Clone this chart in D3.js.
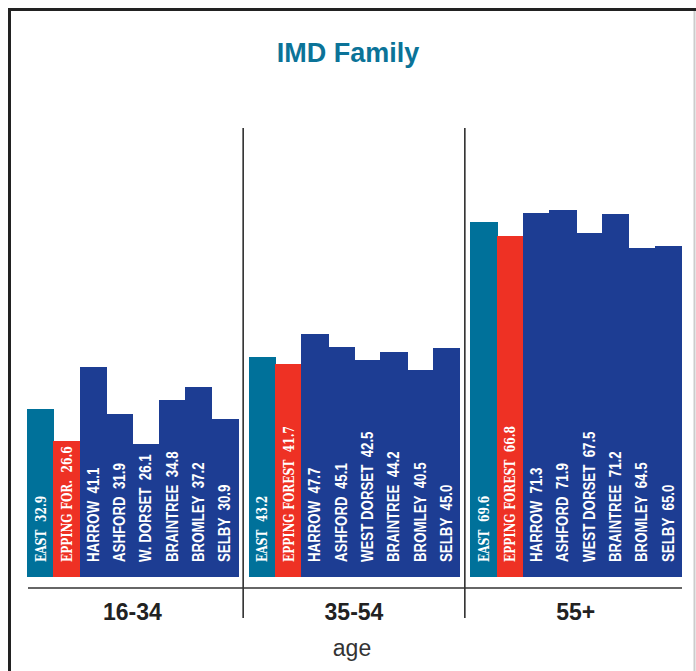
<!DOCTYPE html>
<html>
<head>
<meta charset="utf-8">
<title>IMD Family</title>
<script src="https://cdn.jsdelivr.net/npm/d3@7"></script>
<style>
    body { margin: 0; background: #fff; }
    #chart-area { width: 696px; height: 671px; }
    .bar-label { fill: #fff; white-space: pre; }
    .bar-label.sans { font-family: "Liberation Sans", Arial, sans-serif; font-weight: bold; font-size: 16px; }
    .bar-label.serif { font-family: "DejaVu Serif", serif; font-weight: bold; font-size: 15px; }
</style>
</head>
<body>
<div id="chart-area"></div>
<script>
// age groups along the x axis
let ageGroups = ["16-34", "35-54", "55+"];

// area names, one list per age group (first panel uses short names)
let areaNames = [
    ["EAST", "EPPING FOR.", "HARROW", "ASHFORD", "W. DORSET", "BRAINTREE", "BROMLEY", "SELBY"],
    ["EAST", "EPPING FOREST", "HARROW", "ASHFORD", "WEST DORSET", "BRAINTREE", "BROMLEY", "SELBY"],
    ["EAST", "EPPING FOREST", "HARROW", "ASHFORD", "WEST DORSET", "BRAINTREE", "BROMLEY", "SELBY"]
];

// IMD family values per age group
let values1634 = [32.9, 26.6, 41.1, 31.9, 26.1, 34.8, 37.2, 30.9];
let values3554 = [43.2, 41.7, 47.7, 45.1, 42.5, 44.2, 40.5, 45.0];
let values55   = [69.6, 66.8, 71.3, 71.9, 67.5, 71.2, 64.5, 65.0];

let allValues = [values1634, values3554, values55];

let colorEast = "#00719a";
let colorEpping = "#ee3124";
let colorOther = "#1d3d93";

let width = 696, height = 671;

let svg = d3.select("#chart-area").append("svg")
    .attr("width", width)
    .attr("height", height);

// frame (dark top + left, light right edge)
svg.append("path")
    .attr("d", "M9.5,671V9.5H696")
    .attr("fill", "none")
    .attr("stroke", "#222")
    .attr("stroke-width", 3);

svg.append("line")
    .attr("x1", 694.5).attr("x2", 694.5)
    .attr("y1", 11).attr("y2", 671)
    .attr("stroke", "#ccc")
    .attr("stroke-width", 2);

// title
svg.append("text")
    .attr("x", 348)
    .attr("y", 62)
    .attr("text-anchor", "middle")
    .style("font-family", "'Liberation Sans', Arial, sans-serif")
    .style("font-weight", "bold")
    .style("font-size", "27px")
    .style("fill", "#0b7398")
    .text("IMD Family");

// scales
let x0 = d3.scaleBand()
    .domain(ageGroups)
    .range([27, 681])
    .paddingInner(0.05);

let x1 = d3.scaleBand()
    .domain(d3.range(8))
    .range([0, x0.bandwidth()]);

let y = d3.scaleLinear()
    .domain([0, 75])
    .range([577, 577 - 75 * 5.1]);

// dividers between age groups
let step = x0.step();
let dividers = ageGroups.slice(1).map(g => x0(g) - (step - x0.bandwidth()) / 2);

svg.selectAll(".divider")
    .data(dividers)
    .enter().append("line")
    .attr("class", "divider")
    .attr("x1", d => d).attr("x2", d => d)
    .attr("y1", 128).attr("y2", 618)
    .attr("stroke", "#222")
    .attr("stroke-width", 1.5);

// one group per age band
let groups = svg.selectAll(".age-group")
    .data(ageGroups.map((g, i) => ({
        group: g,
        bars: allValues[i].map((v, j) => ({ name: areaNames[i][j], value: v, idx: j }))
    })))
    .enter().append("g")
    .attr("class", "age-group")
    .attr("transform", d => "translate(" + x0(d.group) + ",0)");

function barColor(d) {
    if (d.idx === 0) return colorEast;
    if (d.idx === 1) return colorEpping;
    return colorOther;
}

groups.selectAll("rect")
    .data(d => d.bars)
    .enter().append("rect")
    .attr("x", d => x1(d.idx))
    .attr("width", x1.bandwidth() + 1)
    .attr("y", d => y(d.value))
    .attr("height", d => y(0) - y(d.value))
    .attr("fill", barColor)
    .attr("shape-rendering", "crispEdges");

// rotated labels inside bars
groups.selectAll(".bar-label")
    .data(d => d.bars)
    .enter().append("text")
    .attr("class", d => "bar-label " + (d.idx < 2 ? "serif" : "sans"))
    .attr("transform", d => "translate(" + (x1(d.idx) + x1.bandwidth() / 2) + ",562) rotate(-90) scale(" + (d.idx < 2 ? 0.72 : 0.83) + ",1)")
    .attr("dy", "0.36em")
    .text(d => d.name + "\u00a0\u00a0" + d.value.toFixed(1));

// baseline
svg.append("line")
    .attr("x1", 28).attr("x2", 682)
    .attr("y1", 588).attr("y2", 588)
    .attr("stroke", "#333")
    .attr("stroke-width", 1.5);

// age group labels
svg.selectAll(".group-label")
    .data(ageGroups)
    .enter().append("text")
    .attr("class", "group-label")
    .attr("x", d => x0(d) + x0.bandwidth() / 2)
    .attr("y", 620)
    .attr("text-anchor", "middle")
    .style("font-family", "'Liberation Sans', Arial, sans-serif")
    .style("font-weight", "bold")
    .style("font-size", "23px")
    .style("fill", "#222")
    .text(d => d);

// axis title
svg.append("text")
    .attr("x", 352)
    .attr("y", 656)
    .attr("text-anchor", "middle")
    .style("font-family", "'Liberation Sans', Arial, sans-serif")
    .style("font-size", "23px")
    .style("fill", "#333")
    .text("age");
</script>
</body>
</html>
